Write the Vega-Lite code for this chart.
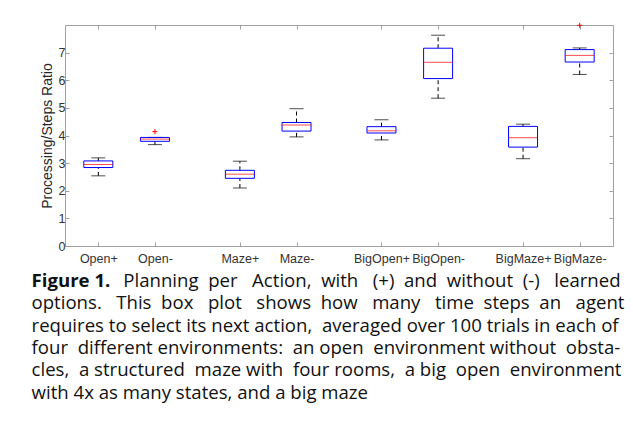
{
  "$schema": "https://vega.github.io/schema/vega-lite/v6.json",
  "width": 548,
  "height": 221,
  "autosize": {"type": "pad"},
  "padding": {"top": 20, "left": 31, "right": 5, "bottom": 5},
  "background": "white",
  "config": {
    "view": {"stroke": "#a0a0a0", "strokeWidth": 1},
    "axis": {
      "labelFont": "Liberation Sans",
      "labelFontSize": 12.5,
      "labelColor": "#333333",
      "titleFont": "Liberation Sans",
      "titleFontSize": 14,
      "titleFontWeight": "normal",
      "titleColor": "#262626",
      "domain": false,
      "grid": false,
      "tickColor": "#a0a0a0",
      "tickSize": -4
    }
  },
  "title": {
    "text": "Figure 1.",
    "subtitle": [
      "\u200b\u00a0\u00a0\u00a0\u00a0\u00a0\u00a0\u00a0\u00a0\u00a0\u00a0\u00a0\u00a0\u00a0\u00a0\u00a0\u00a0\u00a0\u00a0\u00a0Planning \u00a0per \u00a0\u00a0Action, \u00a0with \u00a0\u00a0(+) \u00a0and \u00a0without \u00a0(-) \u00a0\u00a0learned",
      "options. \u00a0\u00a0This \u00a0box \u00a0\u00a0plot \u00a0\u00a0shows \u00a0how \u00a0\u00a0many \u00a0\u00a0time \u00a0steps \u00a0an \u00a0\u00a0agent",
      "requires to select its next action, \u00a0averaged over 100 trials in each of",
      "four \u00a0different environments: \u00a0an open \u00a0environment without \u00a0obsta-",
      "cles, \u00a0a structured \u00a0maze with \u00a0four rooms, \u00a0a big \u00a0open \u00a0environment",
      "with 4x as many states, and a big maze"
    ],
    "orient": "bottom",
    "anchor": "start",
    "frame": "bounds",
    "dx": -8.5,
    "font": "Open Sans",
    "fontSize": 18.6,
    "fontWeight": "bold",
    "color": "#111111",
    "subtitleFont": "Open Sans",
    "subtitleFontSize": 18.6,
    "subtitleFontWeight": "normal",
    "subtitleColor": "#111111",
    "subtitleLineHeight": 22.3,
    "subtitlePadding": -18.6,
    "offset": 7.5
  },
  "datasets": {
    "boxes": [
      {"name": "Open+", "pos": 1, "lo": 2.54, "q1": 2.84, "med": 2.95, "q3": 3.08, "hi": 3.19},
      {"name": "Open-", "pos": 2, "lo": 3.67, "q1": 3.79, "med": 3.87, "q3": 3.93, "hi": 3.93},
      {"name": "Maze+", "pos": 3.5, "lo": 2.10, "q1": 2.45, "med": 2.60, "q3": 2.74, "hi": 3.07},
      {"name": "Maze-", "pos": 4.5, "lo": 3.95, "q1": 4.16, "med": 4.38, "q3": 4.47, "hi": 4.97},
      {"name": "BigOpen+", "pos": 6, "lo": 3.84, "q1": 4.09, "med": 4.17, "q3": 4.32, "hi": 4.57},
      {"name": "BigOpen-", "pos": 7, "lo": 5.35, "q1": 6.06, "med": 6.65, "q3": 7.16, "hi": 7.63},
      {"name": "BigMaze+", "pos": 8.5, "lo": 3.16, "q1": 3.58, "med": 3.92, "q3": 4.33, "hi": 4.41},
      {"name": "BigMaze-", "pos": 9.5, "lo": 6.21, "q1": 6.66, "med": 6.90, "q3": 7.11, "hi": 7.17}
    ],
    "outliers": [
      {"name": "Open-", "pos": 2, "value": 4.14},
      {"name": "BigMaze-", "pos": 9.5, "value": 7.99}
    ]
  },
  "data": {"name": "boxes"},
  "resolve": {"axis": {"x": "independent", "y": "independent"}},
  "layer": [
    {
      "mark": {"type": "rule", "color": "black", "strokeDash": [4, 3], "strokeWidth": 1},
      "encoding": {
        "x": {
          "field": "pos", "type": "quantitative",
          "scale": {"domain": [0.5, 10], "nice": false, "zero": false},
          "axis": {
            "orient": "bottom", "title": null,
            "values": [1, 2, 3.5, 4.5, 6, 7, 8.5, 9.5],
            "labelExpr": "{'1':'Open+','2':'Open-','3.5':'Maze+','4.5':'Maze-','6':'BigOpen+','7':'BigOpen-','8.5':'BigMaze+','9.5':'BigMaze-'}['' + datum.value]",
            "labelPadding": 10
          }
        },
        "y": {
          "field": "lo", "type": "quantitative",
          "scale": {"domain": [0, 8], "nice": false},
          "axis": {
            "orient": "left", "title": "Processing/Steps Ratio",
            "values": [0, 1, 2, 3, 4, 5, 6, 7],
            "labelPadding": 4,
            "titlePadding": 4
          }
        },
        "y2": {"field": "q1"}
      }
    },
    {
      "mark": {"type": "rule", "color": "black", "strokeDash": [4, 3], "strokeWidth": 1},
      "encoding": {
        "x": {
          "field": "pos", "type": "quantitative",
          "scale": {"domain": [0.5, 10], "nice": false, "zero": false},
          "axis": {"orient": "top", "title": null, "labels": false, "values": [1, 2, 3.5, 4.5, 6, 7, 8.5, 9.5]}
        },
        "y": {
          "field": "q3", "type": "quantitative",
          "scale": {"domain": [0, 8], "nice": false},
          "axis": {"orient": "right", "title": null, "labels": false, "values": [0, 1, 2, 3, 4, 5, 6, 7]}
        },
        "y2": {"field": "hi"}
      }
    },
    {
      "mark": {"type": "tick", "orient": "horizontal", "color": "black", "size": 14, "thickness": 1},
      "encoding": {
        "x": {"field": "pos", "type": "quantitative", "axis": null},
        "y": {"field": "lo", "type": "quantitative", "axis": null}
      }
    },
    {
      "mark": {"type": "tick", "orient": "horizontal", "color": "black", "size": 14, "thickness": 1},
      "encoding": {
        "x": {"field": "pos", "type": "quantitative", "axis": null},
        "y": {"field": "hi", "type": "quantitative", "axis": null}
      }
    },
    {
      "mark": {"type": "bar", "orient": "vertical", "size": 29, "fill": "white", "fillOpacity": 0, "stroke": "#0000ff", "strokeWidth": 1},
      "encoding": {
        "x": {"field": "pos", "type": "quantitative", "axis": null},
        "y": {"field": "q1", "type": "quantitative", "axis": null},
        "y2": {"field": "q3"}
      }
    },
    {
      "mark": {"type": "tick", "orient": "horizontal", "color": "#ff0000", "size": 29, "thickness": 1},
      "encoding": {
        "x": {"field": "pos", "type": "quantitative", "axis": null},
        "y": {"field": "med", "type": "quantitative", "axis": null}
      }
    },
    {
      "data": {"name": "outliers"},
      "mark": {"type": "point", "shape": "M-1,0L1,0M0,-1L0,1", "size": 25, "filled": false, "stroke": "#ff0000", "strokeWidth": 1, "opacity": 1},
      "encoding": {
        "x": {"field": "pos", "type": "quantitative", "axis": null},
        "y": {"field": "value", "type": "quantitative", "axis": null}
      }
    }
  ]
}
